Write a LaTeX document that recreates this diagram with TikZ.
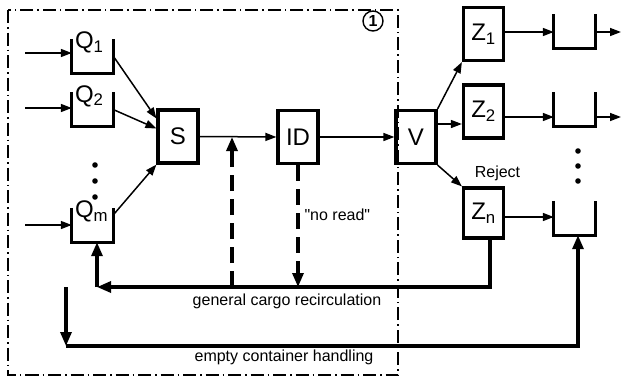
\documentclass[tikz,border=0pt]{standalone}
\usepackage{fontspec}
\setmainfont{Liberation Sans}
\newfontfamily\straightq{Liberation Sans}[Ligatures=TeXOff]
\usetikzlibrary{arrows.meta}

\begin{document}
\begin{tikzpicture}[x=1pt,y=-1pt,
  box/.style={draw,line width=3.2pt,minimum width=40pt,minimum height=53pt,inner sep=0pt,font=\fontsize{24}{26}\selectfont},
  cont/.style={minimum width=41pt,minimum height=34pt,inner sep=0pt},
  qlab/.style={anchor=north west,inner sep=0pt,xshift=3pt,yshift=7pt,font=\fontsize{24}{26}\selectfont},
  wall/.style={line width=3.2pt},
  arr/.style={-{Triangle[length=11pt,width=8pt]},line width=1.5pt},
  bigarr/.style={-{Triangle[length=14pt,width=11pt]},line width=3.2pt},
  dasharr/.style={bigarr,dash pattern=on 16pt off 8pt},
  border/.style={line width=1.3pt,dash pattern=on 13pt off 4pt on 1.5pt off 4pt},
  lbl/.style={font=\fontsize{16}{18}\selectfont}
]
\useasboundingbox (0,0) rectangle (625,378);
\draw[border] (8,10) rectangle (398,375);
\node[circle,draw,fill=white,line width=1.4pt,minimum size=20pt,inner sep=0pt,font=\bfseries\fontsize{16}{16}\selectfont] (one) at (373,21) {1};
\node[cont] (q1) at (92.5,56) {};
\node[cont] (q2) at (92.5,109.5) {};
\node[cont] (qm) at (92.5,225) {};
\node[qlab] (q1l) at (q1.north west) {Q\textsubscript{1}};
\node[qlab] (q2l) at (q2.north west) {Q\textsubscript{2}};
\node[qlab] (qml) at (qm.north west) {Q\textsubscript{m}};
\node[box] (s) at (178,136.5) {S};
\node[box] (id) at (298,137) {ID};
\node[box] (v) at (416,137) {V};
\node[box] (z1) at (483.5,34) {Z\textsubscript{1}};
\node[box] (z2) at (483.5,111.5) {Z\textsubscript{2}};
\node[box,minimum height=50pt] (zn) at (483.5,213) {Z\textsubscript{n}};
\node[cont] (o1) at (574.5,31.5) {};
\node[cont] (o2) at (574.5,109.5) {};
\node[cont] (o3) at (574.5,218) {};
\node[lbl] (rej) at (497.5,173) {Reject};
\node[lbl,anchor=west] (nr) at (301,215) {\straightq"no read"};
\node[lbl] (gcr) at (287,301) {general cargo recirculation};
\node[lbl] (ech) at (284,357) {empty container handling};
\coordinate (in1) at (25,53);
\coordinate (in2) at (25,108);
\coordinate (inm) at (25,225);
\coordinate (out1) at (621,32);
\coordinate (out2) at (621,117);
\coordinate (split) at (232,137);
\coordinate (rc) at (97,287);
\coordinate (ectop) at (66,287);
\coordinate (ec) at (66,346);
\foreach \n in {q1,q2,qm,o1,o2,o3}
  \draw[wall] (\n.north west) |- (\n.south east) -- (\n.north east);
\foreach \y in {165,181,197}
  \fill (95,\y) circle (2.8pt);
\foreach \y in {151,166,181}
  \fill (578,\y) circle (2.8pt);
\draw[arr] (in1) -- (in1 -| q1.west);
\draw[arr] (in2) -- (in2 -| q2.west);
\draw[arr] (inm) -- (inm -| qm.west);
\draw[arr] (q1.east) -- ([yshift=18pt]s.west);
\draw[arr] (q2.east) -- ([yshift=8pt]s.west);
\draw[arr] ([yshift=10pt]qm.east) -- (s.south west);
\draw[arr] (s.east) -- (id.west);
\draw[arr] (id.east) -- (v.west);
\draw[arr] (v.north east) -- (z1.south west);
\draw[arr] ([yshift=13pt]v.east) -- ([yshift=13pt]v.east -| z2.west);
\draw[arr] (v.south east) -- (zn.north west);
\draw[arr] ([yshift=2pt]z1.east) -- ([yshift=2pt]z1.east -| o1.west);
\draw[arr] ([yshift=-5.5pt]z2.east) -- ([yshift=-5.5pt]z2.east -| o2.west);
\draw[arr] ([yshift=-4pt]zn.east) -- ([yshift=-4pt]zn.east -| o3.west);
\draw[arr] (o1.east |- out1) -- (out1);
\draw[arr] (o2.east |- out2) -- (out2);
\draw[dasharr] (split |- rc) -- (split);
\draw[dasharr] (id.south) -- (id.south |- rc);
\draw[bigarr] ([xshift=6.5pt]zn.south) |- (rc);
\draw[bigarr] (rc) -- (rc |- qm.south);
\draw[bigarr] (ectop) -- (ec);
\draw[bigarr] (ec) -| ([xshift=3.5pt]o3.south);
\end{tikzpicture}
\end{document}
